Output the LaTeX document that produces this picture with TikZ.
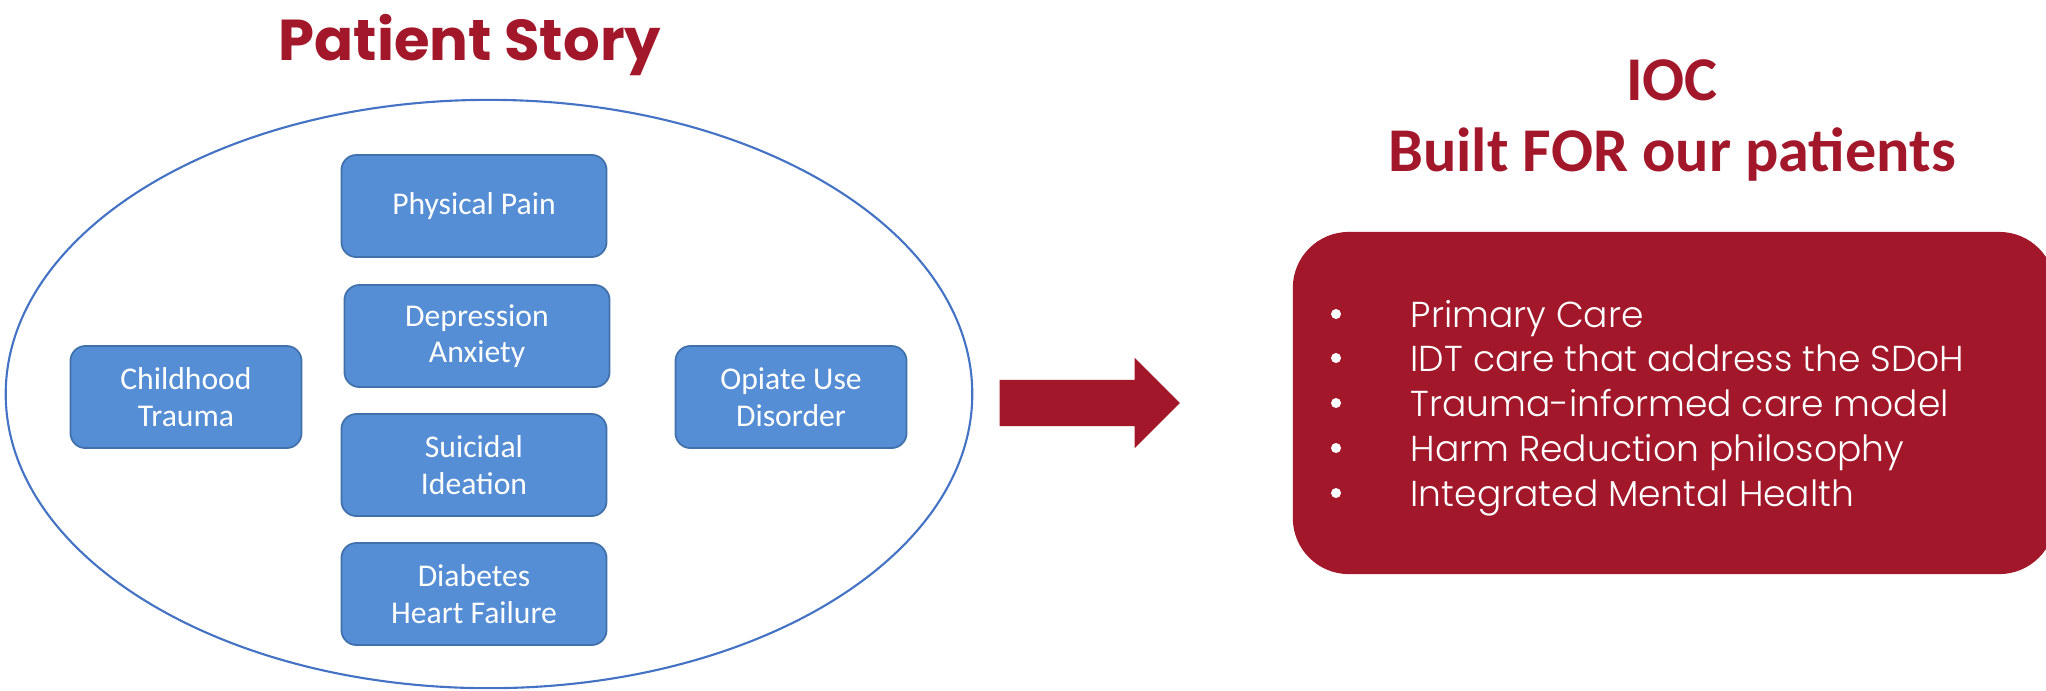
\documentclass[tikz,border=0pt]{standalone}
\usepackage{fontspec}
\setmainfont{Carlito}
\newfontfamily\gothic{Poppins}
\newfontfamily\gothiclight{Poppins Light}
\usepackage{tikz}
\usetikzlibrary{positioning}
\usetikzlibrary{shapes.geometric,shapes.arrows}
\definecolor{iocred}{RGB}{162,24,42}
\definecolor{boxblue}{RGB}{85,142,213}
\definecolor{boxedge}{RGB}{65,113,170}
\definecolor{ringblue}{RGB}{68,114,196}
\tikzstyle{storybox}=[rectangle,rounded corners=0.15cm,fill=boxblue,draw=boxedge,line width=0.5pt,text=white,align=center,minimum height=1.02cm,inner sep=0pt,font=\fontsize{9}{10.4}\selectfont]
\tikzstyle{widebox}=[storybox,minimum width=2.65cm]
\tikzstyle{sidebox}=[storybox,minimum width=2.31cm]
\tikzstyle{heading}=[text=iocred,anchor=base,inner sep=0pt,font=\fontsize{17.7}{20}\selectfont\bfseries]
\tikzstyle{storyheading}=[heading,font=\gothic\fontsize{16.4}{20}\selectfont\bfseries]
\tikzstyle{bullet}=[circle,fill=white,minimum size=0.1cm,inner sep=0pt]
\tikzstyle{listitem}=[text=white,anchor=base west,inner sep=0pt,font=\gothiclight\fontsize{10.25}{12.8}\selectfont]

\begin{document}
\begin{tikzpicture}[x=0.01cm,y=-0.01cm]
    \useasboundingbox (0,0) rectangle (2046,690);
    % Left half: the patient story
    \node[storyheading] (storytitle) at (470,60) {Patient Story};
    \node[ellipse,draw=ringblue,line width=0.6pt,minimum width=9.66cm,minimum height=5.88cm,inner sep=0pt] (story) at (489,394) {};

    \foreach \pos/\name/\label in {{(474,206)/pain/Physical Pain}, {(477,336)/mood/Depression\\Anxiety}, {(474,465)/suicide/Suicidal\\Ideation}, {(474,594)/body/Diabetes\\Heart Failure}}
        \node[widebox] (\name) at \pos {\label};
    \node[sidebox] (trauma) at (186,397) {Childhood\\Trauma};
    \node[sidebox] (opiate) at (791,397) {Opiate Use\\Disorder};

    % The block arrow
    \node[single arrow,fill=iocred,anchor=tail,minimum height=1.8cm,inner xsep=0pt,inner ysep=0.225cm,single arrow head extend=0.22cm] (arrow) at (999,403) {};

    % Right half: what IOC offers
    \node[heading] (ioc) at (1672,100) {IOC};
    \node[heading] (built) at (1672,171) {Built FOR our patients};
    \node[fill=iocred,rounded corners=0.56cm,minimum width=7.62cm,minimum height=3.42cm,inner sep=0pt] (iocbox) at (1674,403) {};

    \foreach \y/\name/\txt in {314/primary/Primary Care, 358/idt/IDT care that address the SDoH, 403/trauma/Trauma-informed care model, 448/harm/Harm Reduction philosophy, 493/mental/Integrated Mental Health}
    {
        \node[bullet] (dot\name) at (1336,\y) {};
        \node[listitem] (item\name) at (1410,\y+13) {\txt};
    }
\end{tikzpicture}
\end{document}
